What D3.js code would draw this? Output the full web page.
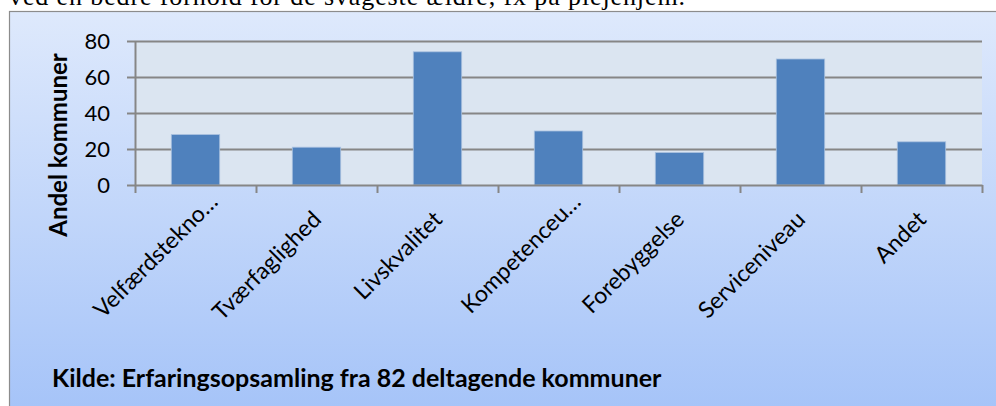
<!DOCTYPE html>
<html>
<head>
<meta charset="utf-8">
<script src="https://cdn.jsdelivr.net/npm/d3@7"></script>
<style>
  body { margin: 0; background: #fff; }
  svg { display: block; }
  .sans { font-family: Lato, "Open Sans", sans-serif; fill: #000; }
</style>
</head>
<body>
<svg id="chart"></svg>
<script>
// Data
const categories = ["Velfærdstekno…", "Tværfaglighed", "Livskvalitet", "Kompetenceu…", "Forebyggelse", "Serviceniveau", "Andet"];
const values = [28, 21, 74, 30, 18, 70, 24];
const yTicks = [0, 20, 40, 60, 80];
const yTitle = "Andel kommuner";
const sourceNote = "Kilde: Erfaringsopsamling fra 82 deltagende kommuner";
const introText = "ved en bedre forhold for de svageste ældre, fx på plejehjem.";

// Layout
const W = 996, H = 406;
const plot = { left: 135, right: 982, top: 41, bottom: 185 };
const gridColor = "#868686";

const svg = d3.select("#chart").attr("width", W).attr("height", H);

// Gradient for the chart frame
const defs = svg.append("defs");
const grad = defs.append("linearGradient")
    .attr("id", "bg").attr("x1", 0).attr("y1", 0).attr("x2", 0).attr("y2", 1);
grad.append("stop").attr("offset", "0%").attr("stop-color", "#dee9fc");
grad.append("stop").attr("offset", "100%").attr("stop-color", "#a3c2f8");

// Body text line cut off above the chart (as in the source document)
svg.append("text")
    .attr("x", 9)
    .attr("y", 5)
    .attr("textLength", 676)
    .attr("lengthAdjust", "spacing")
    .style("font-family", "'Liberation Serif', 'DejaVu Serif', serif")
    .style("font-size", "26px")
    .text(introText);

// Chart frame
svg.append("rect")
    .attr("x", 9.5).attr("y", 11.5)
    .attr("width", W + 10).attr("height", H + 10)
    .attr("fill", "url(#bg)")
    .attr("stroke", "#8c8c8c")
    .attr("stroke-width", 1.2);

// Plot area background
svg.append("rect")
    .attr("x", plot.left).attr("y", plot.top)
    .attr("width", plot.right - plot.left).attr("height", plot.bottom - plot.top)
    .attr("fill", "#dbe5f1");

// Scales
const x = d3.scaleBand()
    .domain(categories)
    .range([plot.left, plot.right])
    .paddingInner(0.6)
    .paddingOuter(0.3);

const y = d3.scaleLinear().domain([0, 80]).range([plot.bottom, plot.top]);

// Gridlines
svg.append("g")
    .attr("class", "grid")
    .attr("transform", `translate(${plot.left},0)`)
    .call(d3.axisLeft(y).tickValues(yTicks.filter(d => d > 0))
        .tickSize(-(plot.right - plot.left)).tickFormat(""))
    .call(g => g.select(".domain").remove())
    .call(g => g.selectAll("line").attr("stroke", gridColor).attr("stroke-width", 2));

// Bars
svg.append("g")
    .selectAll("rect")
    .data(values)
    .join("rect")
    .attr("x", (d, i) => x(categories[i]))
    .attr("y", d => y(d))
    .attr("width", x.bandwidth())
    .attr("height", d => y(0) - y(d))
    .attr("fill", "#4f81bd")
    .attr("stroke", "#a9c0df")
    .attr("stroke-width", 0.8);

// Y axis
svg.append("g")
    .attr("transform", `translate(${plot.left},0)`)
    .call(d3.axisLeft(y).tickValues(yTicks).tickSize(8).tickSizeOuter(0).tickPadding(17))
    .call(g => g.select(".domain").attr("stroke", gridColor).attr("stroke-width", 2))
    .call(g => g.selectAll("line").attr("stroke", gridColor).attr("stroke-width", 2))
    .call(g => g.selectAll("text")
        .style("font-family", "Lato, 'Open Sans', sans-serif")
        .style("font-size", "22px")
        .attr("fill", "#000"));

// X axis: tick marks on the category boundaries
const xEdge = d3.scaleLinear().domain([0, categories.length]).range([plot.left, plot.right]);
svg.append("g")
    .attr("transform", `translate(0,${plot.bottom})`)
    .call(d3.axisBottom(xEdge).tickValues(d3.range(categories.length + 1))
        .tickSize(8).tickSizeOuter(0).tickFormat(""))
    .call(g => g.select(".domain").attr("stroke", gridColor).attr("stroke-width", 2))
    .call(g => g.selectAll("line").attr("stroke", gridColor).attr("stroke-width", 2));

// Category labels, rotated -45 degrees, anchored at their end
const shiftTrunc = 25;
svg.append("g")
    .selectAll("text")
    .data(categories)
    .join("text")
    .attr("class", "sans")
    .attr("text-anchor", "end")
    .style("font-size", "23px")
    .attr("transform", d => {
        const s = d.endsWith("…") ? shiftTrunc * Math.SQRT1_2 : 0;
        const px = x(d) + x.bandwidth() / 2 + 6 + s;
        const py = plot.bottom + 36 - s;
        return `translate(${px},${py}) rotate(-45)`;
    })
    .text(d => d);

// Y axis title
svg.append("text")
    .attr("class", "sans")
    .attr("text-anchor", "middle")
    .attr("transform", "translate(67,145) rotate(-90)")
    .style("font-size", "24px")
    .style("font-weight", "bold")
    .text(yTitle);

// Source note
svg.append("text")
    .attr("class", "sans")
    .attr("x", 52)
    .attr("y", 387)
    .style("font-size", "25px")
    .style("font-weight", "bold")
    .text(sourceNote);
</script>
</body>
</html>
